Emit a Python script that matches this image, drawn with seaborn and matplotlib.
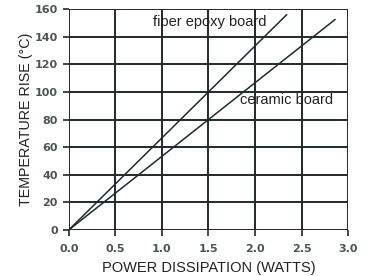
import matplotlib
matplotlib.use('Agg')
import matplotlib.pyplot as plt
import seaborn as sns
import pandas as pd

# values (straight lines from the origin)
fiber_power = [0.0, 2.34]
fiber_temp = [0.0, 156.0]
ceramic_power = [0.0, 2.86]
ceramic_temp = [0.0, 152.5]

x_ticks = [0.0, 0.5, 1.0, 1.5, 2.0, 2.5, 3.0]
y_ticks = [0, 20, 40, 60, 80, 100, 120, 140, 160]

sns.set_style('white')
plt.rcParams['font.family'] = ['Liberation Sans', 'DejaVu Sans']

line_color = '#1c2b2b'
grid_color = '#1f2a2a'

df = pd.concat([
    pd.DataFrame({'power': fiber_power, 'temp': fiber_temp, 'board': 'fiber epoxy board'}),
    pd.DataFrame({'power': ceramic_power, 'temp': ceramic_temp, 'board': 'ceramic board'}),
])

fig = plt.figure(figsize=(3.7, 2.76), dpi=100)
ax = fig.add_axes([0.186, 0.167, 0.755, 0.8])

sns.lineplot(data=df, x='power', y='temp', hue='board',
             palette=[line_color, line_color], linewidth=1.1,
             legend=False, ax=ax)

ax.set_xlim(0, 3.0)
ax.set_ylim(0, 160)
ax.set_xticks(x_ticks)
ax.set_yticks(y_ticks)
ax.set_xticklabels([f'{v:.1f}' for v in x_ticks])
ax.grid(True, color=grid_color, linewidth=1.4)
ax.set_axisbelow(True)
for s in ax.spines.values():
    s.set_visible(False)

ax.tick_params(axis='both', which='both', length=4, width=1.2, color=grid_color,
               labelsize=8, labelcolor='#4a5555',
               bottom=True, left=True)
ax.tick_params(axis='x', pad=6)
ax.tick_params(axis='y', pad=4)
for lab in ax.get_xticklabels() + ax.get_yticklabels():
    lab.set_fontfamily('DejaVu Sans')
    lab.set_fontweight('bold')

ax.set_xlabel('POWER DISSIPATION (WATTS)', fontsize=10.5, color='#222222', labelpad=5)
ax.set_ylabel('TEMPERATURE RISE (°C)', fontsize=10.3, color='#222222', labelpad=1)

ax.text(0.90, 150.5, 'fiber epoxy board', fontsize=10.5, color='#222222', va='center', ha='left')
ax.text(1.84, 94, 'ceramic board', fontsize=10.5, color='#222222', va='center', ha='left')

fig.savefig('out.png', dpi=100, facecolor='white')
